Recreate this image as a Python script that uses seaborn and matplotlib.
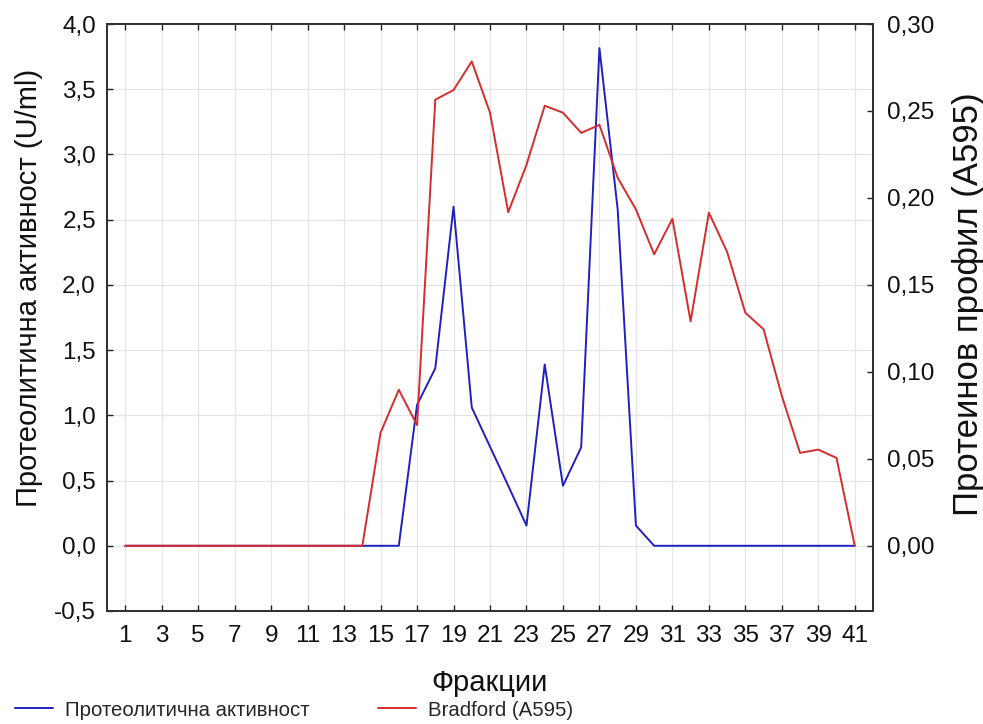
import numpy as np
import pandas as pd
import seaborn as sns
import matplotlib
matplotlib.use("Agg")
import matplotlib.pyplot as plt
from matplotlib.ticker import FuncFormatter, MultipleLocator, NullLocator
from matplotlib.lines import Line2D

# Fractions and measured profiles
fractions = list(range(1, 42))
activity = [0.0] * 16 + [1.08, 1.36, 2.60, 1.06, 0.76, 0.46, 0.155, 1.39, 0.46,
                         0.755, 3.815, 2.58, 0.155] + [0.0] * 12
bradford = [0.0] * 14 + [0.065, 0.0897, 0.0694, 0.2565, 0.262, 0.2785, 0.249,
                         0.1918, 0.219, 0.253, 0.249, 0.2374, 0.242, 0.2116,
                         0.1934, 0.1676, 0.188, 0.129, 0.1915, 0.169, 0.134,
                         0.1245, 0.0862, 0.0534, 0.0553, 0.0505, 0.0]
x_ticks = list(range(1, 42, 2))

label_activity = "Протеолитична активност"
label_bradford = "Bradford (A595)"

df = pd.DataFrame({"Фракции": fractions, "activity": activity, "bradford": bradford})

sns.set_theme(style="white")
plt.rcParams["font.family"] = ["Liberation Sans", "DejaVu Sans"]

blue = "#2020C0"
red = "#D62C2C"
txt = "#111111"

fig = plt.figure(figsize=(9.83, 7.24), dpi=100)
ax = fig.add_axes([107 / 983, 1 - 611 / 724, (873 - 107) / 983, (611 - 24) / 724])
ax2 = ax.twinx()

sns.lineplot(data=df, x="Фракции", y="activity", ax=ax, color=blue, linewidth=1.4)
sns.lineplot(data=df, x="Фракции", y="bradford", ax=ax2, color=red, linewidth=1.4)

ax.set_xlim(0, 42)
ax.set_ylim(-0.5, 4.0)
ax2.set_ylim(-0.0375, 0.30)

ax.set_xticks(x_ticks)
ax.xaxis.set_minor_locator(NullLocator())
ax.yaxis.set_major_locator(MultipleLocator(0.5))
ax2.set_yticks(np.arange(0, 0.301, 0.05))

comma1 = FuncFormatter(lambda v, p: f"{v:.1f}".replace(".", ","))
comma2 = FuncFormatter(lambda v, p: f"{v:.2f}".replace(".", ","))
ax.yaxis.set_major_formatter(comma1)
ax2.yaxis.set_major_formatter(comma2)

ax2.grid(False)
ax.grid(True, which="major", color="#E4E4E4", linewidth=0.9)
ax.set_axisbelow(True)

for a in (ax, ax2):
    for s in a.spines.values():
        s.set_color("#333333")
        s.set_linewidth(1.4)

tick_fs = 17.5
ax.tick_params(axis="x", direction="in", length=4, width=1, top=True, bottom=True,
               labelsize=tick_fs, pad=10, colors="#222222", labelcolor=txt)
ax.tick_params(axis="y", direction="in", length=4, width=1, left=True, right=False,
               labelsize=tick_fs, pad=8, colors="#222222", labelcolor=txt)
ax2.tick_params(axis="y", direction="in", length=4, width=1, right=True,
                labelsize=tick_fs, pad=10, colors="#222222", labelcolor=txt)

ax.set_xlabel("Фракции", fontsize=21, labelpad=16, color=txt)
ax.set_ylabel("Протеолитична активност (U/ml)", fontsize=21, color=txt)
ax2.set_ylabel("Протеинов профил (A595)", fontsize=25, color=txt)
ax.yaxis.set_label_coords(-0.083, 0.550)
ax2.yaxis.set_label_coords(1.103, 0.523)

handles = [Line2D([], [], color=blue, linewidth=1.4),
           Line2D([], [], color=red, linewidth=1.4)]
fig.legend(handles, [label_activity, label_bradford], loc="center left",
           bbox_to_anchor=(15 / 983, 1 - 710 / 724), ncol=2, frameon=False,
           fontsize=14.7, handlelength=1.85, handletextpad=0.6,
           columnspacing=3.35, borderaxespad=0, borderpad=0)

fig.savefig("out.png", dpi=100)
